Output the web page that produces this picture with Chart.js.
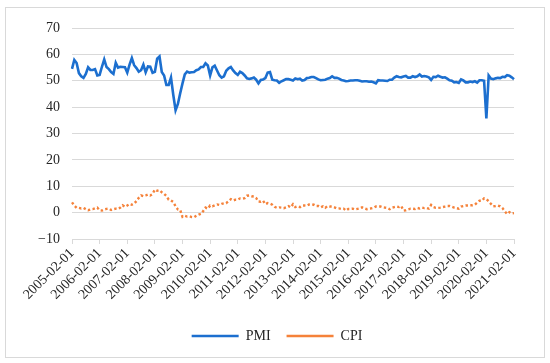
<!DOCTYPE html>
<html>
<head>
<meta charset="utf-8">
<script src="https://cdn.jsdelivr.net/npm/chart.js@4.4.1/dist/chart.umd.min.js"></script>
<style>
html, body { margin: 0; padding: 0; background: #fff; }
#frame { position: absolute; left: 5px; top: 7px; width: 538px; height: 349px; border: 1px solid #d9d9d9; }
#wrap { position: absolute; left: 0; top: 0; width: 550px; height: 363px; }
</style>
</head>
<body>
<div id="frame"></div>
<div id="wrap"><canvas id="pmiCpiChart"></canvas></div>
<script>
// monthly categories, 2005-02 .. 2021-02
const startYear = 2005, startMonth = 2, monthCount = 193;
const months = [];
for (let i = 0; i < monthCount; i++) {
    const m = startMonth - 1 + i;
    const y = startYear + Math.floor(m / 12);
    months.push(y + '-' + String(m % 12 + 1).padStart(2, '0') + '-01');
}

const pmi = [
    54.5, 57.9, 56.7, 52.9, 51.7, 51.1, 52.6, 55.1, 54.1, 54.1, 54.4,
    52.0, 52.2, 55.3, 58.1, 55.2, 54.4, 53.3, 52.6, 56.8, 55.0, 55.3, 55.2,
    55.1, 53.1, 56.1, 58.6, 55.9, 54.8, 53.4, 54.0, 56.1, 53.2, 55.4, 55.3,
    53.0, 53.4, 58.4, 59.2, 53.3, 52.0, 48.4, 48.4, 51.2, 44.6, 38.8, 41.2,
    45.3, 49.0, 52.4, 53.5, 53.1, 53.2, 53.3, 54.0, 54.3, 55.2, 55.2, 56.6,
    55.8, 52.0, 55.1, 55.7, 53.9, 52.1, 51.2, 51.7, 53.8, 54.7, 55.2, 53.9,
    52.9, 52.2, 53.4, 52.9, 52.0, 50.9, 50.7, 50.9, 51.2, 50.4, 49.0, 50.3,
    50.5, 51.0, 53.1, 53.3, 50.4, 50.2, 50.1, 49.2, 49.8, 50.2, 50.6, 50.6,
    50.4, 50.1, 50.9, 50.6, 50.8, 50.1, 50.3, 51.0, 51.1, 51.4, 51.4, 51.0,
    50.5, 50.2, 50.3, 50.4, 50.8, 51.0, 51.7, 51.1, 51.1, 50.8, 50.3, 50.1,
    49.8, 49.9, 50.1, 50.1, 50.2, 50.2, 50.0, 49.7, 49.8, 49.8, 49.6, 49.7,
    49.4, 49.0, 50.2, 50.1, 50.1, 50.0, 49.9, 50.4, 50.4, 51.2, 51.7, 51.4,
    51.3, 51.6, 51.8, 51.2, 51.2, 51.7, 51.4, 51.7, 52.4, 51.6, 51.8, 51.6,
    51.3, 50.3, 51.5, 51.4, 51.9, 51.5, 51.2, 51.3, 50.8, 50.2, 50.0, 49.4,
    49.5, 49.2, 50.5, 50.1, 49.4, 49.4, 49.7, 49.5, 49.8, 49.3, 50.2, 50.2,
    50.0, 35.7, 52.0, 50.8, 50.6, 50.9, 51.1, 51.0, 51.5, 51.4, 52.1, 51.9,
    51.3, 50.6
];

const cpi = [
    3.9, 2.7, 1.8, 1.8, 1.6, 1.8, 1.3, 0.9, 1.2, 1.3, 1.6,
    1.9, 0.9, 0.8, 1.2, 1.4, 1.5, 1.0, 1.3, 1.5, 1.4, 1.9, 2.8,
    2.2, 2.7, 3.3, 3.0, 3.4, 4.4, 5.6, 6.5, 6.2, 6.5, 6.9, 6.5,
    7.1, 8.7, 8.3, 8.5, 7.7, 7.1, 6.3, 4.9, 4.6, 4.0, 2.4, 1.2,
    1.0, -1.6, -1.2, -1.5, -1.4, -1.7, -1.8, -1.2, -0.8, -0.5, 0.6, 1.9,
    1.5, 2.7, 2.4, 2.8, 3.1, 2.9, 3.3, 3.5, 3.6, 4.4, 5.1, 4.6,
    4.9, 4.9, 5.4, 5.3, 5.5, 6.4, 6.5, 6.2, 6.1, 5.5, 4.2, 4.1,
    4.5, 3.2, 3.6, 3.4, 3.0, 2.2, 1.8, 2.0, 1.9, 1.7, 2.0, 2.5,
    2.0, 3.2, 2.1, 2.4, 2.1, 2.7, 2.7, 2.6, 3.1, 3.2, 3.0, 2.5,
    2.5, 2.0, 2.4, 1.8, 2.5, 2.3, 2.3, 2.0, 1.6, 1.6, 1.4, 1.5,
    0.8, 1.4, 1.4, 1.5, 1.2, 1.4, 1.6, 2.0, 1.6, 1.3, 1.5, 1.6,
    1.8, 2.3, 2.3, 2.3, 2.0, 1.9, 1.8, 1.3, 1.9, 2.1, 2.3, 2.1,
    2.5, 0.8, 0.9, 1.2, 1.5, 1.5, 1.4, 1.8, 1.6, 1.9, 1.7, 1.8,
    1.5, 2.9, 2.1, 1.8, 1.8, 1.9, 2.1, 2.3, 2.5, 2.5, 2.2, 1.9,
    1.7, 1.5, 2.3, 2.5, 2.7, 2.7, 2.8, 2.8, 3.0, 3.8, 4.5, 4.5,
    5.4, 5.2, 4.3, 3.3, 2.4, 2.5, 2.7, 2.4, 1.7, 0.5, -0.5, 0.2,
    -0.3, -0.2
];

const yTicks = [-10, 0, 10, 20, 30, 40, 50, 60, 70];
const labelEvery = 12;

const serif = "'Liberation Serif', 'Times New Roman', serif";
const textColor = '#262626';
const gridColor = '#d9d9d9';

// nudge the legend so it sits centred under the frame, like the original
const legendShift = {
    id: 'legendShift',
    afterLayout(chart) {
        chart.legend.left += 20;
        chart.legend.right += 20;
    }
};

const ctx = document.getElementById('pmiCpiChart').getContext('2d');
const pmiCpiChart = new Chart(ctx, {
    type: 'line',
    data: {
        labels: months,
        datasets: [{
            label: 'PMI',
            data: pmi,
            borderColor: '#1c6fcf',
            borderWidth: 2.6,
            pointRadius: 0,
            tension: 0
        }, {
            label: 'CPI',
            data: cpi,
            borderColor: '#f5823a',
            borderWidth: 2.4,
            borderDash: [2.4, 2.4],
            pointRadius: 0,
            tension: 0
        }]
    },
    options: {
        responsive: true,
        maintainAspectRatio: false,
        animation: false,
        layout: {
            padding: { top: 28, right: 36, bottom: 10, left: 0 }
        },
        plugins: {
            legend: {
                position: 'bottom',
                labels: {
                    usePointStyle: true,
                    pointStyle: 'line',
                    pointStyleWidth: 47,
                    boxHeight: 14,
                    padding: 16,
                    color: textColor,
                    font: { family: serif, size: 14 }
                }
            },
            tooltip: { enabled: false }
        },
        scales: {
            x: {
                grid: {
                    drawOnChartArea: false,
                    tickLength: 5,
                    color: (c) => c.index % labelEvery === 0 ? gridColor : 'rgba(0,0,0,0)'
                },
                border: { color: gridColor },
                ticks: {
                    autoSkip: false,
                    minRotation: 45,
                    maxRotation: 45,
                    padding: 1,
                    color: textColor,
                    font: { family: serif, size: 14 },
                    callback: function (value, index) {
                        return index % labelEvery === 0 ? this.getLabelForValue(value) : '';
                    }
                },
                afterFit: (scale) => { scale.height = 74; }
            },
            y: {
                min: yTicks[0],
                max: yTicks[yTicks.length - 1],
                afterBuildTicks: (scale) => { scale.ticks = yTicks.map(v => ({ value: v })); },
                grid: { color: gridColor, drawTicks: false },
                border: { display: false },
                ticks: {
                    padding: 12,
                    color: textColor,
                    font: { family: serif, size: 14 },
                    callback: (v) => String(v).replace('-', '\u2212')
                },
                afterFit: (scale) => { scale.width = 72; }
            }
        }
    },
    plugins: [legendShift]
});
</script>
</body>
</html>
